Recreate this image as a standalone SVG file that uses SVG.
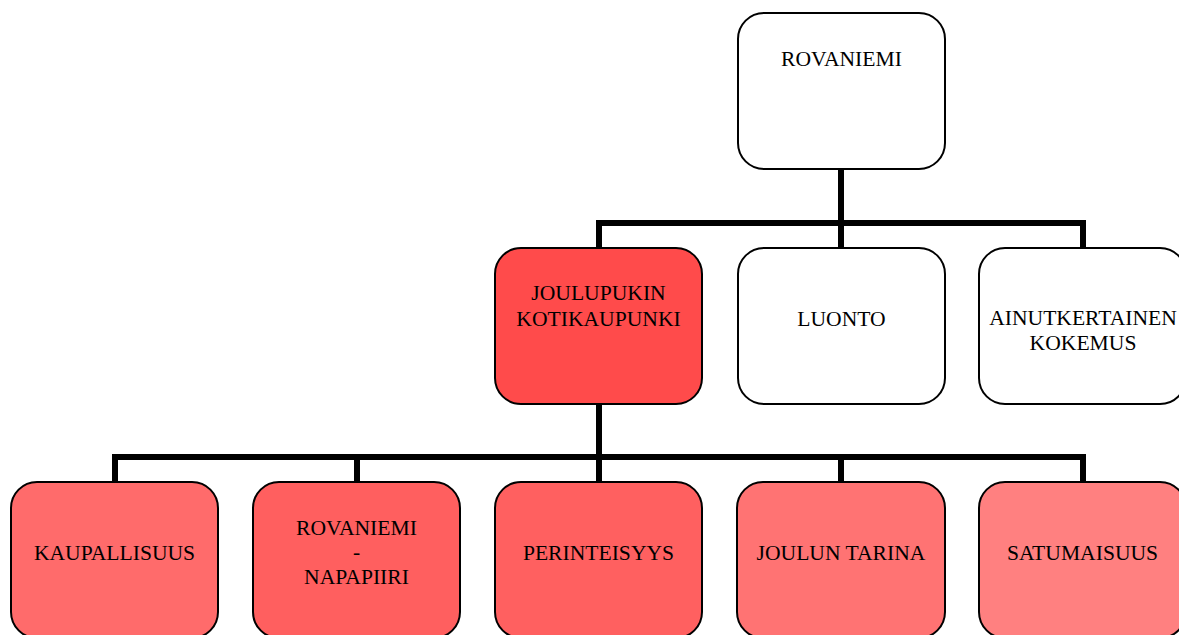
<svg xmlns="http://www.w3.org/2000/svg" width="1179" height="635" viewBox="0 0 1179 635">
  <style>
    .box { stroke: #000; stroke-width: 2; }
    .white { fill: #ffffff; }
    .lbl { font-family: "Liberation Serif", "Times New Roman", serif; font-size: 21.6px; fill: #000; text-anchor: middle; }
    .wire { fill: none; stroke: #000; stroke-width: 6; stroke-linejoin: miter; stroke-linecap: butt; }
  </style>

  <!-- connectors -->
  <g id="connectors">
    <path class="wire" d="M841,169 V223 M599,248 V223 H1083 V248 M841,223 V248"/>
    <path class="wire" d="M599,404 V457 M115,482 V457 H1083 V482 M357,457 V482 M599,457 V482 M841,457 V482"/>
  </g>

  <!-- top level -->
  <g id="node-rovaniemi">
    <rect class="box white" x="738" y="13" width="207" height="156" rx="26"/>
    <text class="lbl" x="841.5" y="66">ROVANIEMI</text>
  </g>

  <!-- second level -->
  <g id="node-joulupukin">
    <rect class="box" fill="#ff4b4b" x="495" y="248" width="207" height="156" rx="26"/>
    <text class="lbl" x="598.5" y="300">JOULUPUKIN</text>
    <text class="lbl" x="598.5" y="326">KOTIKAUPUNKI</text>
  </g>
  <g id="node-luonto">
    <rect class="box white" x="738" y="248" width="207" height="156" rx="26"/>
    <text class="lbl" x="841.5" y="326">LUONTO</text>
  </g>
  <g id="node-ainutkertainen">
    <rect class="box white" x="979" y="248" width="207" height="156" rx="26"/>
    <text class="lbl" x="1083" y="325">AINUTKERTAINEN</text>
    <text class="lbl" x="1083" y="350">KOKEMUS</text>
  </g>

  <!-- third level -->
  <g id="node-kaupallisuus">
    <rect class="box" fill="#ff6b6b" x="11" y="482" width="207" height="156" rx="26"/>
    <text class="lbl" x="114.5" y="560">KAUPALLISUUS</text>
  </g>
  <g id="node-napapiiri">
    <rect class="box" fill="#ff5f5f" x="253" y="482" width="207" height="156" rx="26"/>
    <text class="lbl" x="356.5" y="535">ROVANIEMI</text>
    <text class="lbl" x="356.5" y="559">-</text>
    <text class="lbl" x="356.5" y="584">NAPAPIIRI</text>
  </g>
  <g id="node-perinteisyys">
    <rect class="box" fill="#ff6060" x="495" y="482" width="207" height="156" rx="26"/>
    <text class="lbl" x="598.5" y="560">PERINTEISYYS</text>
  </g>
  <g id="node-joulun-tarina">
    <rect class="box" fill="#ff7373" x="737" y="482" width="208" height="156" rx="26"/>
    <text class="lbl" x="841" y="560">JOULUN TARINA</text>
  </g>
  <g id="node-satumaisuus">
    <rect class="box" fill="#ff8080" x="979" y="482" width="207" height="156" rx="26"/>
    <text class="lbl" x="1082.5" y="560">SATUMAISUUS</text>
  </g>
</svg>
